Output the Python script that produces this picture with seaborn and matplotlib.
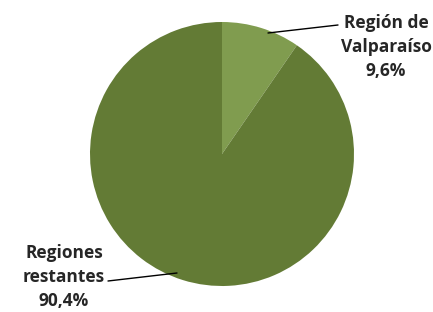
import matplotlib
matplotlib.use("Agg")
import matplotlib.pyplot as plt
import seaborn as sns

# data
regions = ["Región de\nValparaíso", "Regiones\nrestantes"]
shares = [9.6, 90.4]
share_labels = ["9,6%", "90,4%"]
colors = ["#809c4f", "#637b35"]

sns.set_theme(style="white")
plt.rcParams["font.family"] = ["Open Sans", "DejaVu Sans"]

W, H = 433, 312
fig = plt.figure(figsize=(W / 100, H / 100), dpi=100)
ax = fig.add_axes([0, 0, 1, 1])

# pie in pixel coordinates (y measured from bottom)
cx, cy, r = 222, H - 154, 132
ax.pie(shares, colors=colors, startangle=90, counterclock=False,
       center=(cx, cy), radius=r, frame=True,
       wedgeprops=dict(linewidth=0))
ax.set_xlim(0, W)
ax.set_ylim(0, H)
ax.set_aspect("equal")
ax.axis("off")

# labels with leader lines
ax.plot([268, 338], [H - 33, H - 25], color="black", lw=1)
ax.text(386, H - 47, regions[0] + "\n" + share_labels[0], ha="center", va="center",
        fontsize=12.5, fontweight="bold", linespacing=1.45)

ax.plot([108, 177], [H - 281, H - 273], color="black", lw=1)
ax.text(64, H - 277, regions[1] + "\n" + share_labels[1], ha="center", va="center",
        fontsize=12.5, fontweight="bold", linespacing=1.45)

fig.savefig("out.png", dpi=100, facecolor="white")
